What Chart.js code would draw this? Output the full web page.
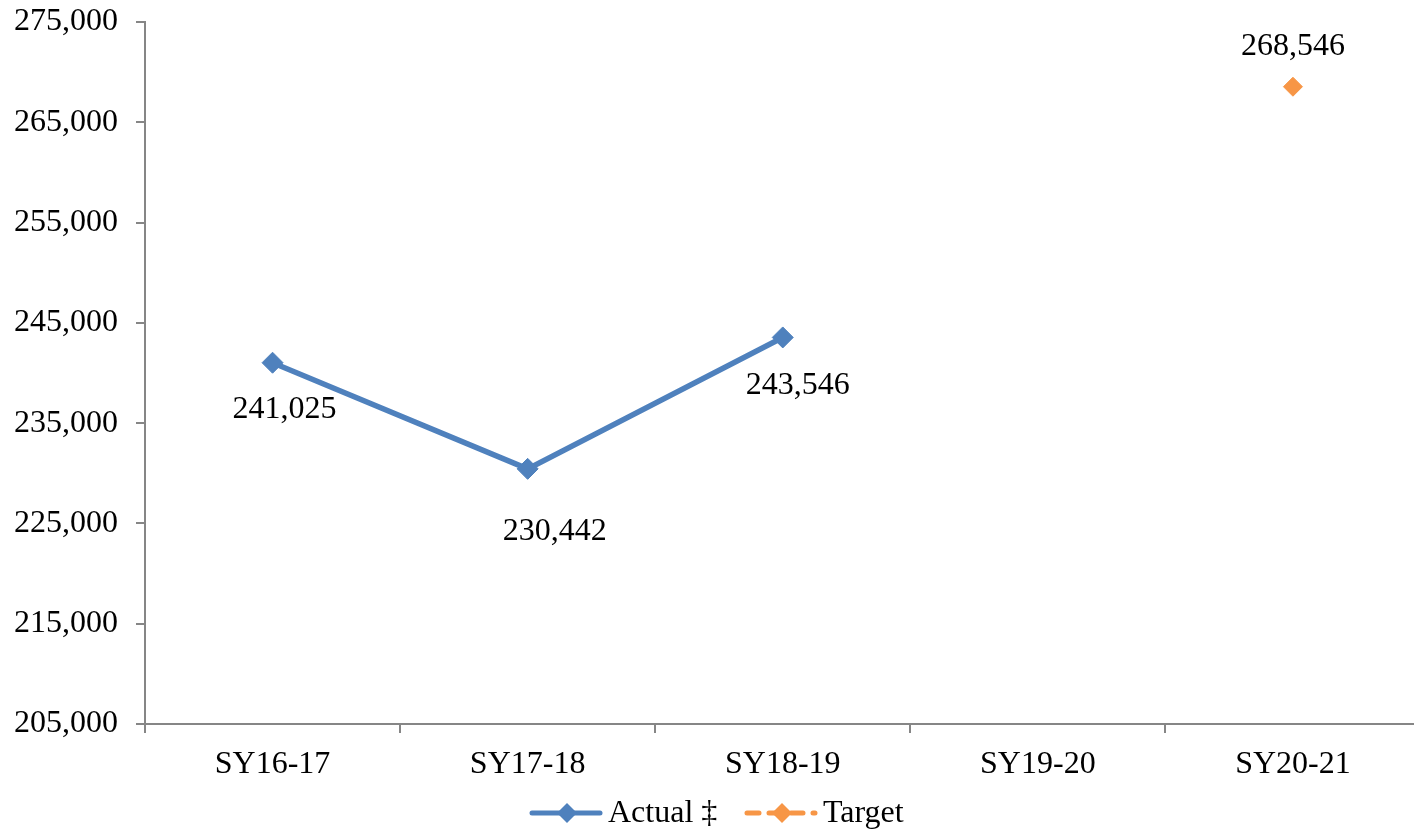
<!DOCTYPE html>
<html>
<head>
<meta charset="utf-8">
<script src="https://cdn.jsdelivr.net/npm/chart.js@4/dist/chart.umd.min.js"></script>
<style>
  html, body { margin: 0; padding: 0; background: #fff; overflow: hidden; }
  #wrap { width: 1414px; height: 831px; overflow: hidden; }
</style>
</head>
<body>
<div id="wrap"><canvas id="myChart" width="1432" height="831"></canvas></div>
<script>
// chart data
const categories = ['SY16-17', 'SY17-18', 'SY18-19', 'SY19-20', 'SY20-21'];
const actualValues = [241025, 230442, 243546, null, null];
const targetValues = [null, null, null, null, 268546];
const yTicks = [205000, 215000, 225000, 235000, 245000, 255000, 265000, 275000];

const FONT = "'Liberation Serif', 'Times New Roman', serif";
const BLUE = '#4F81BD';
const ORANGE = '#F79646';
const AXIS = '#868686';

const fmt = v => v.toLocaleString('en-US');

// draws value labels next to points
const valueLabels = {
    id: 'valueLabels',
    afterDatasetsDraw(chart) {
        const ctx = chart.ctx;
        ctx.save();
        ctx.font = '32px ' + FONT;
        ctx.fillStyle = '#000';
        ctx.textAlign = 'center';
        ctx.textBaseline = 'middle';
        chart.data.datasets.forEach((ds, i) => {
            const meta = chart.getDatasetMeta(i);
            meta.data.forEach((pt, j) => {
                const v = ds.data[j];
                if (v === null) return;
                const off = ds.labelOffsets[j];
                ctx.fillText(fmt(v), pt.x + off[0], pt.y + off[1]);
            });
        });
        ctx.restore();
    }
};

// excel-like legend: line with diamond marker
const lineLegend = {
    id: 'lineLegend',
    afterDraw(chart) {
        const ctx = chart.ctx;
        const y = 813;
        const items = [
            { ds: chart.data.datasets[0], x: 532 },
            { ds: chart.data.datasets[1], x: 747 }
        ];
        ctx.save();
        items.forEach(it => {
            ctx.strokeStyle = it.ds.borderColor;
            ctx.lineWidth = 5;
            ctx.lineCap = 'round';
            ctx.setLineDash(it.ds.borderDash || []);
            ctx.beginPath();
            ctx.moveTo(it.x, y);
            ctx.lineTo(it.x + 68, y);
            ctx.stroke();
            ctx.setLineDash([]);
            const cx = it.x + 35;
            ctx.fillStyle = it.ds.pointBackgroundColor;
            ctx.beginPath();
            ctx.moveTo(cx, y - 10);
            ctx.lineTo(cx + 10, y);
            ctx.lineTo(cx, y + 10);
            ctx.lineTo(cx - 10, y);
            ctx.closePath();
            ctx.fill();
            ctx.fillStyle = '#000';
            ctx.font = '32px ' + FONT;
            ctx.textBaseline = 'middle';
            ctx.textAlign = 'left';
            ctx.fillText(it.ds.label, it.x + 76, y + 1);
        });
        ctx.restore();
    }
};

const canvas = document.getElementById('myChart');
const ctx = canvas.getContext('2d');

const chart = new Chart(ctx, {
    type: 'line',
    data: {
        labels: categories,
        datasets: [{
            label: 'Actual \u2021',
            data: actualValues,
            borderColor: BLUE,
            backgroundColor: BLUE,
            pointBackgroundColor: BLUE,
            pointBorderColor: BLUE,
            borderWidth: 5.5,
            pointStyle: 'rectRot',
            pointRadius: 10.5,
            pointBorderWidth: 1,
            spanGaps: false,
            labelOffsets: [[12, 47], [27, 63], [15, 48], [0, 0], [0, 0]]
        }, {
            label: 'Target',
            data: targetValues,
            borderColor: ORANGE,
            backgroundColor: ORANGE,
            pointBackgroundColor: ORANGE,
            pointBorderColor: ORANGE,
            borderWidth: 5.5,
            borderDash: [12, 10],
            pointStyle: 'rectRot',
            pointRadius: 9.5,
            pointBorderWidth: 1,
            labelOffsets: [[0, 0], [0, 0], [0, 0], [0, 0], [0, -40]]
        }]
    },
    options: {
        responsive: false,
        animation: false,
        layout: { padding: { top: 22, right: 0, bottom: 40, left: 0 } },
        plugins: {
            legend: { display: false },
            tooltip: { enabled: false }
        },
        scales: {
            x: {
                offset: true,
                grid: {
                    offset: true,
                    drawOnChartArea: false,
                    drawTicks: true,
                    tickLength: 9,
                    color: AXIS,
                    lineWidth: 2
                },
                border: { color: AXIS, width: 2 },
                ticks: {
                    color: '#000',
                    font: { family: FONT, size: 32 },
                    padding: 12,
                    maxRotation: 0
                },
                afterFit: s => { s.height = 67; }
            },
            y: {
                min: yTicks[0],
                max: yTicks[yTicks.length - 1],
                afterBuildTicks: s => { s.ticks = yTicks.map(v => ({ value: v })); },
                grid: {
                    drawOnChartArea: false,
                    drawTicks: true,
                    tickLength: 9,
                    color: AXIS,
                    lineWidth: 2
                },
                border: { color: AXIS, width: 2 },
                ticks: {
                    color: '#000',
                    font: { family: FONT, size: 32 },
                    padding: 18,
                    callback: v => fmt(v)
                },
                afterFit: s => {
                    s.width = 145;
                    s.paddingTop = 0;
                    s.paddingBottom = 0;
                }
            }
        }
    },
    plugins: [valueLabels, lineLegend]
});
</script>
</body>
</html>
